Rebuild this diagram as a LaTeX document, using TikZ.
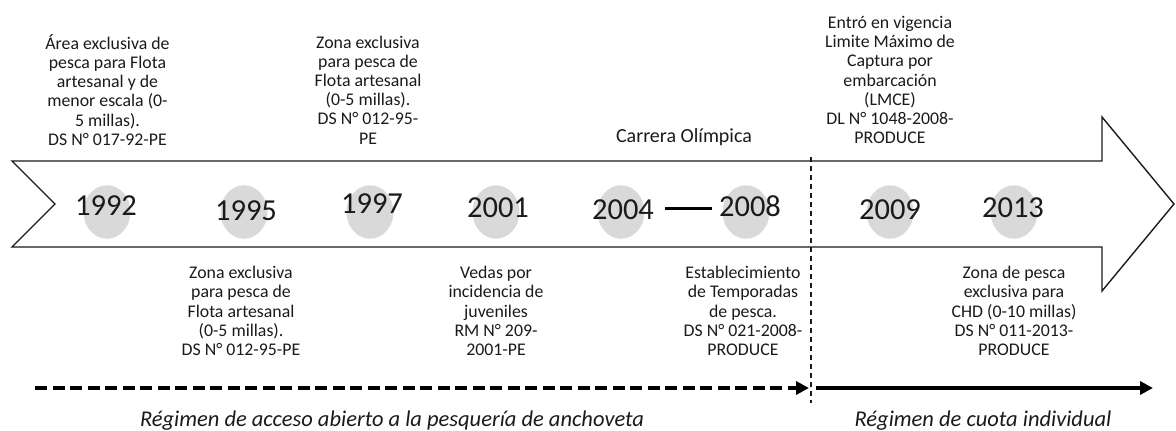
\documentclass[tikz,border=0pt]{standalone}
\usepackage{fontspec}
\setmainfont{Carlito}
\usetikzlibrary{arrows.meta,shapes.geometric}
\definecolor{circgray}{HTML}{D9D9D9}
\definecolor{ink}{HTML}{1A1A1A}
\begin{document}
\begin{tikzpicture}[x=1pt,y=-1pt,
  outline/.style={draw=ink,line width=1.4pt,line join=miter},
  dotnode/.style={shape=ellipse,fill=circgray,draw=none,minimum width=47pt,minimum height=53.5pt,inner sep=0pt},
  yr/.style={font=\fontsize{30.5}{31}\selectfont,text=ink,inner sep=0pt},
  evt/.style={align=center,font=\fontsize{17.8}{19.2}\selectfont,text=ink,inner sep=0pt},
  regime/.style={font=\fontsize{22.5}{24}\selectfont\itshape,text=ink,inner sep=0pt},
  sep/.style={draw=ink,line width=1.2pt,dash pattern=on 5pt off 4pt},
  openreg/.style={draw=black,line width=3.5pt,dash pattern=on 12pt off 5.5pt,-{Triangle[length=13pt,width=13pt]}},
  quotareg/.style={draw=black,line width=3.5pt,-{Triangle[length=13pt,width=13pt]}},
  span/.style={draw=black,line width=3pt}
]
\useasboundingbox (0,0) rectangle (1176,431);
% main timeline arrow
\draw[outline] (12,161) -- (1102,161) -- (1102,117) -- (1174,204) -- (1102,291) -- (1102,247) -- (12,247) -- (55,204) -- cycle;
% circles
\node[dotnode] (c1992) at (107,212) {};
\node[dotnode] (c1995) at (244,212) {};
\node[dotnode] (c1997) at (370,212) {};
\node[dotnode] (c2001) at (496,212) {};
\node[dotnode] (c2004) at (621,212) {};
\node[dotnode] (c2008) at (746,212) {};
\node[dotnode] (c2009) at (890,212) {};
\node[dotnode] (c2013) at (1014,212) {};
% years
\node[yr] (y1992) at (106,205.7) {1992};
\node[yr] (y1995) at (246,210.7) {1995};
\node[yr] (y1997) at (372,204) {1997};
\node[yr] (y2001) at (498,208) {2001};
\node[yr] (y2004) at (623,210) {2004};
\node[yr] (y2008) at (750,205.7) {2008};
\node[yr] (y2009) at (890,210) {2009};
\node[yr] (y2013) at (1013,208) {2013};
% 2004 - 2008 span
\coordinate (spanA) at (665,208);
\coordinate (spanB) at (712,208);
\draw[span] (spanA) -- (spanB);
% upper texts
\node[evt] (t1992) at (107.5,90) {Área exclusiva de\\pesca para Flota\\artesanal y de\\menor escala (0-\\5 millas).\\DS N° 017-92-PE};
\node[evt] (t1997) at (368,90) {Zona exclusiva\\para pesca de\\Flota artesanal\\(0-5 millas).\\DS N° 012-95-\\PE};
\node[font=\fontsize{20}{22}\selectfont,text=ink,inner sep=0pt] (olimp) at (684,137) {Carrera Olímpica};
\node[evt] (t2009) at (890,80) {Entró en vigencia\\Limite Máximo de\\Captura por\\embarcación\\(LMCE)\\DL N° 1048-2008-\\PRODUCE};
% lower texts
\node[evt] (t1995) at (241,311) {Zona exclusiva\\para pesca de\\Flota artesanal\\(0-5 millas).\\DS N° 012-95-PE};
\node[evt] (t2001) at (496,311) {Vedas por\\incidencia de\\juveniles\\RM N° 209-\\2001-PE};
\node[evt] (t2008) at (743,311) {Establecimiento\\de Temporadas\\de pesca.\\DS N° 021-2008-\\PRODUCE};
\node[evt] (t2013) at (1014,311) {Zona de pesca\\exclusiva para\\CHD (0-10 millas)\\DS N° 011-2013-\\PRODUCE};
% regime separator
\coordinate (sepTop) at (811,157);
\coordinate (sepBot) at (811,403);
\draw[sep] (sepTop) -- (sepBot);
% regime arrows
\coordinate (openA) at (35,388);
\coordinate (openB) at (809,388);
\coordinate (quotaA) at (816,388);
\coordinate (quotaB) at (1153,388);
\draw[openreg] (openA) -- (openB);
\draw[quotareg] (quotaA) -- (quotaB);
\node[regime] (ropen) at (392,421) {Régimen de acceso abierto a la pesquería de anchoveta};
\node[regime] (rquota) at (983,421) {Régimen de cuota individual};
\end{tikzpicture}
\end{document}
